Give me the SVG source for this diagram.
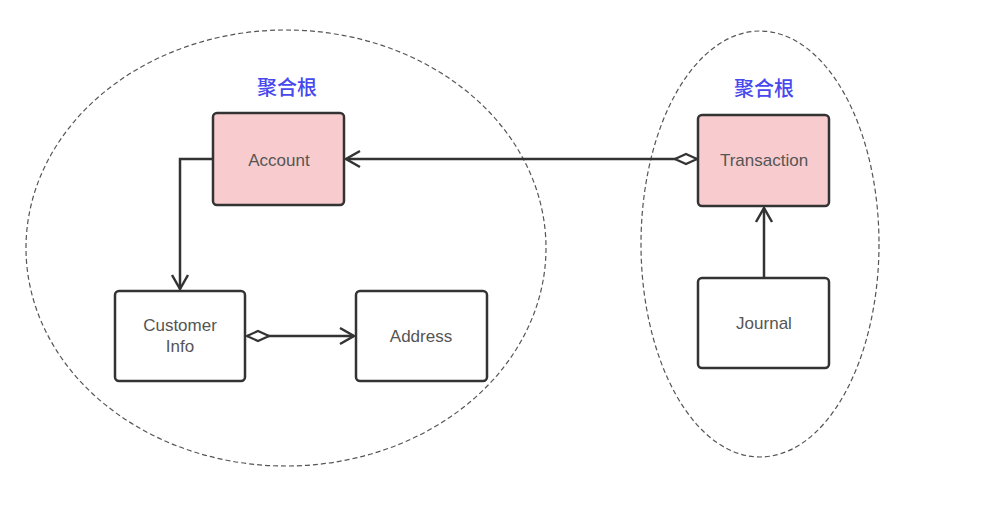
<svg xmlns="http://www.w3.org/2000/svg" width="984" height="510" viewBox="0 0 984 510">
<style>
.bg{fill:#ffffff}
.region{fill:none;stroke:#555;stroke-width:1.2;stroke-dasharray:5 3}
.box{fill:#ffffff;stroke:#333;stroke-width:2.5}
.root{fill:#f8ccce;stroke:#333;stroke-width:2.5}
.lbl{font-family:"Liberation Sans",Arial,sans-serif;font-size:17px;fill:#555;text-anchor:middle}
.tag{font-family:"Noto Sans CJK SC","Noto Sans",sans-serif;font-size:20px;font-weight:500;fill:#4848ee;text-anchor:middle}
.conn{fill:none;stroke:#333;stroke-width:2.5}
</style>
<defs>
<marker id="arrow" markerUnits="userSpaceOnUse" markerWidth="20" markerHeight="20" refX="15" refY="10" orient="auto">
<path d="M1,2 L15,10 L1,18" fill="none" stroke="#333" stroke-width="2.5"/>
</marker>
<marker id="diamond" markerUnits="userSpaceOnUse" markerWidth="28" markerHeight="16" refX="1" refY="8" orient="auto">
<path d="M1,8 L12,3 L23,8 L12,13 Z" fill="#fff" stroke="#333" stroke-width="2.2"/>
</marker>
</defs>
<rect class="bg" x="0" y="0" width="984" height="510"/>
<ellipse class="region" cx="286" cy="248" rx="260" ry="218"/>
<ellipse class="region" cx="760" cy="244" rx="119" ry="213"/>
<text class="tag" x="287" y="95">聚合根</text>
<text class="tag" x="764" y="96">聚合根</text>
<g id="connectors">
<path class="conn" d="M697,159 L346,159" marker-start="url(#diamond)" marker-end="url(#arrow)"/>
<path class="conn" d="M213,159 L180,159 L180,289" marker-end="url(#arrow)"/>
<path class="conn" d="M247,336 L354,336" marker-start="url(#diamond)" marker-end="url(#arrow)"/>
<path class="conn" d="M764,278 L764,208" marker-end="url(#arrow)"/>
</g>
<g id="account">
<rect class="root" x="213" y="113" width="131" height="92" rx="4"/>
<text class="lbl" x="279" y="166">Account</text>
</g>
<g id="customer-info">
<rect class="box" x="115" y="291" width="130" height="90" rx="4"/>
<text class="lbl" x="180" y="331">Customer</text>
<text class="lbl" x="180" y="352">Info</text>
</g>
<g id="address">
<rect class="box" x="356" y="291" width="131" height="90" rx="4"/>
<text class="lbl" x="421" y="342">Address</text>
</g>
<g id="transaction">
<rect class="root" x="698" y="115" width="131" height="91" rx="4"/>
<text class="lbl" x="764" y="166">Transaction</text>
</g>
<g id="journal">
<rect class="box" x="698" y="278" width="131" height="90" rx="4"/>
<text class="lbl" x="764" y="329">Journal</text>
</g>
</svg>
